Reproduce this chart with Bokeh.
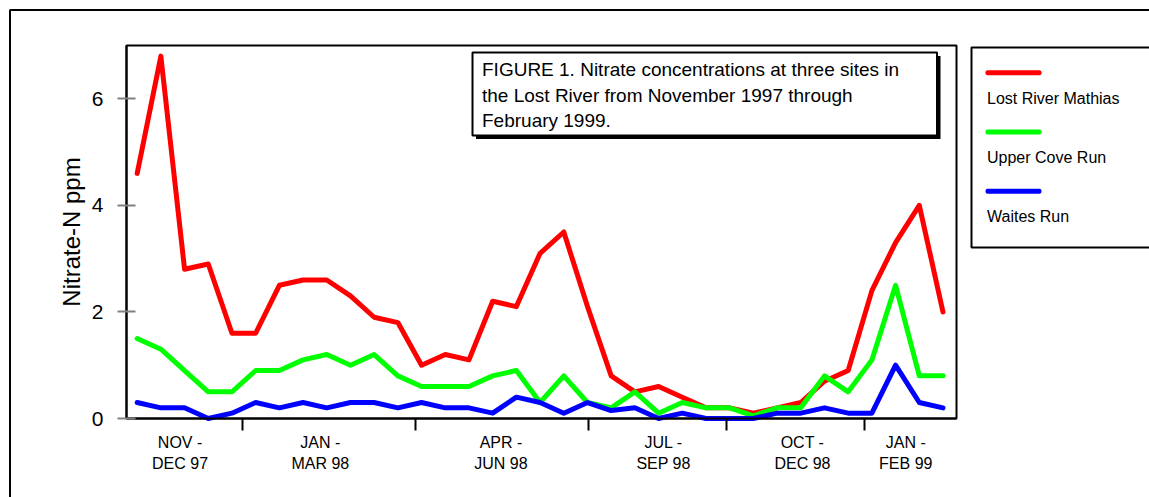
from bokeh.plotting import figure
from bokeh.models import Range1d, FixedTicker, BoxAnnotation, Label
from bokeh.embed import file_html
from bokeh.resources import INLINE

# ---------------- data ----------------
sample_index = list(range(35))
lost_river_mathias = [4.6, 6.8, 2.8, 2.9, 1.6, 1.6, 2.5, 2.6, 2.6, 2.3, 1.9, 1.8, 1.0, 1.2, 1.1,
                      2.2, 2.1, 3.1, 3.5, 2.1, 0.8, 0.5, 0.6, 0.4, 0.2, 0.2, 0.1, 0.2, 0.3, 0.7,
                      0.9, 2.4, 3.3, 4.0, 2.0]
upper_cove_run = [1.5, 1.3, 0.9, 0.5, 0.5, 0.9, 0.9, 1.1, 1.2, 1.0, 1.2, 0.8, 0.6, 0.6, 0.6,
                  0.8, 0.9, 0.3, 0.8, 0.3, 0.2, 0.5, 0.1, 0.3, 0.2, 0.2, 0.05, 0.2, 0.2, 0.8,
                  0.5, 1.1, 2.5, 0.8, 0.8]
waites_run = [0.3, 0.2, 0.2, 0.0, 0.1, 0.3, 0.2, 0.3, 0.2, 0.3, 0.3, 0.2, 0.3, 0.2, 0.2,
              0.1, 0.4, 0.3, 0.1, 0.3, 0.15, 0.2, 0.0, 0.1, 0.0, 0.0, 0.0, 0.1, 0.1, 0.2,
              0.1, 0.1, 1.0, 0.3, 0.2]

series_names = ["Lost River Mathias", "Upper Cove Run", "Waites Run"]
series_colors = ["#ff0000", "#00ff00", "#0000ff"]
series_values = [lost_river_mathias, upper_cove_run, waites_run]

quarter_labels = ["NOV -\nDEC 97", "JAN -\nMAR 98", "APR -\nJUN 98",
                  "JUL -\nSEP 98", "OCT -\nDEC 98", "JAN -\nFEB 99"]
quarter_label_pos = [1.81, 7.73, 15.35, 22.21, 28.07, 32.43]
quarter_bounds = [4.45, 11.75, 19.05, 24.85, 30.7]
y_ticks = [0, 2, 4, 6]

y_axis_title = "Nitrate-N ppm"
title_lines = ["FIGURE 1.  Nitrate concentrations at three sites in",
               "the Lost River from November 1997 through",
               "February 1999."]

# ---------------- layout ----------------
W, H = 1149, 497
X0, X1 = -0.45, 34.57          # plot-box data extent
Y0, Y1 = 0, 7
BX_L, BX_R, BX_T, BX_B = 126, 956, 45, 418   # plot box in pixels
SX = (X1 - X0) / (BX_R - BX_L)
SY = (Y1 - Y0) / (BX_B - BX_T)
FONT = "Liberation Sans"


def dx(px):
    return X0 + (px - BX_L) * SX


def dy(py):
    return Y0 + (BX_B - py) * SY


p = figure(width=W, height=H, x_range=Range1d(dx(0), dx(W)), y_range=Range1d(dy(H), dy(0)),
           output_backend="svg", toolbar_location=None, min_border=0)
p.grid.visible = False
p.outline_line_color = None
p.background_fill_color = "white"
p.border_fill_color = "white"

# outer frame (only left/top edges are inside the window)
p.add_layout(BoxAnnotation(left=dx(9.5), right=dx(W + 40), top=dy(9.5), bottom=dy(H + 40),
                           fill_color=None, line_color="black", line_alpha=1, line_width=2,
                           level="underlay"))
# plot box
p.add_layout(BoxAnnotation(left=X0, right=X1, top=Y1, bottom=Y0,
                           fill_color=None, line_color="black", line_alpha=1, line_width=2,
                           level="underlay"))

for name, vals, color in zip(series_names, series_values, series_colors):
    p.line(sample_index, vals, line_color=color, line_width=5,
           line_join="round", line_cap="round")

# x axis
xa = p.xaxis[0]
xa.fixed_location = Y0
xa.bounds = (X0, X1)
xa.ticker = FixedTicker(ticks=quarter_label_pos, minor_ticks=quarter_bounds)
xa.major_label_overrides = {pos: lab for pos, lab in zip(quarter_label_pos, quarter_labels)}
xa.major_tick_in = 0
xa.major_tick_out = 0
xa.minor_tick_in = 0
xa.minor_tick_out = 12
xa.minor_tick_line_color = "black"
xa.minor_tick_line_width = 2
xa.axis_line_color = "black"
xa.axis_line_width = 2
xa.major_label_text_font = FONT
xa.major_label_text_font_size = "16px"
xa.major_label_text_color = "black"
xa.major_label_text_line_height = 1.25
xa.major_label_standoff = 3

# y axis
ya = p.yaxis[0]
ya.fixed_location = X0
ya.bounds = (Y0, Y1)
ya.ticker = FixedTicker(ticks=y_ticks)
ya.major_tick_in = 9
ya.major_tick_out = 9
ya.major_tick_line_color = "#808080"
ya.major_tick_line_width = 2
ya.minor_tick_line_color = None
ya.axis_line_color = "black"
ya.axis_line_width = 2
ya.major_label_text_font = FONT
ya.major_label_text_font_size = "21px"
ya.major_label_text_color = "black"
ya.major_label_standoff = 14
ya.axis_label = y_axis_title
ya.axis_label_text_font = FONT
ya.axis_label_text_font_size = "24px"
ya.axis_label_text_font_style = "normal"
ya.axis_label_text_color = "black"
ya.axis_label_standoff = 4

# title box with shadow
p.add_layout(BoxAnnotation(left=dx(475.5), right=dx(940), top=dy(55.5), bottom=dy(138.5),
                           fill_color="black", fill_alpha=1, line_color=None))
p.add_layout(BoxAnnotation(left=dx(472), right=dx(936.5), top=dy(52), bottom=dy(135),
                           fill_color="white", fill_alpha=1, line_color="black",
                           line_alpha=1, line_width=2))
for i, line in enumerate(title_lines):
    p.add_layout(Label(x=dx(481.5), y=dy(69.3 + 25.5 * i), text=line, text_font=FONT,
                       text_font_size="19px", text_color="black",
                       text_align="left", text_baseline="alphabetic"))

# legend box
p.add_layout(BoxAnnotation(left=dx(971), right=dx(W + 40), top=dy(47), bottom=dy(247),
                           fill_color="white", fill_alpha=1, line_color="black",
                           line_alpha=1, line_width=2))
for i, (name, color) in enumerate(zip(series_names, series_colors)):
    yc = 72.3 + 59.2 * i
    p.add_layout(BoxAnnotation(left=dx(985), right=dx(1041), top=dy(yc - 2.5), bottom=dy(yc + 2.5),
                               fill_color=color, fill_alpha=1, line_color=None, border_radius=2))
    p.add_layout(Label(x=dx(986.5), y=dy(yc + 25.5), text=name, text_font=FONT,
                       text_font_size="16px", text_color="black",
                       text_align="left", text_baseline="alphabetic"))

open("out.html", "w").write(file_html(p, INLINE))
